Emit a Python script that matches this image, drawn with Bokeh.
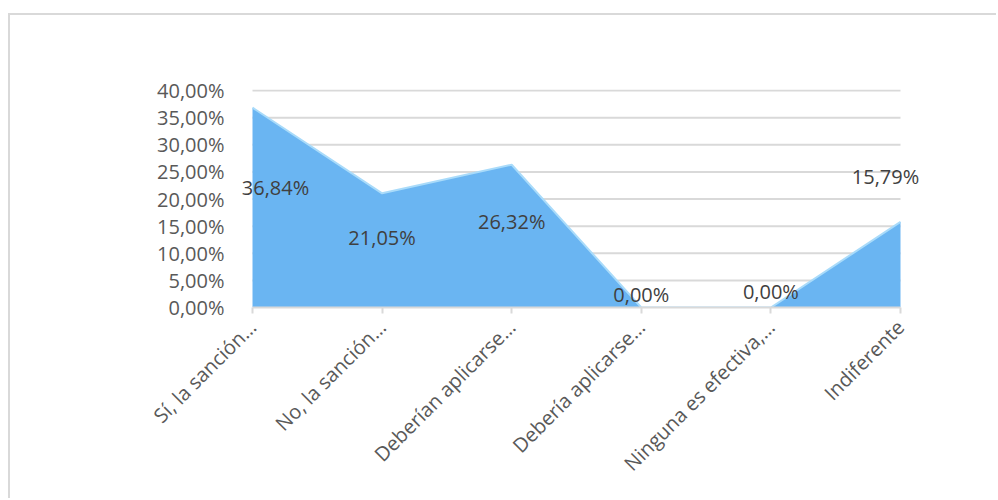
import math
from bokeh.plotting import figure
from bokeh.models import Range1d, FixedTicker, ColumnDataSource, Label
from bokeh.embed import file_html
from bokeh.resources import INLINE

categories = ["Sí, la sanción…", "No, la sanción…", "Deberían aplicarse…",
              "Debería aplicarse…", "Ninguna es efectiva,…", "Indiferente"]
values = [36.84, 21.05, 26.32, 0.00, 0.00, 15.79]
label_texts = ["36,84%", "21,05%", "26,32%", "0,00%", "0,00%", "15,79%"]
y_ticks = [0, 5, 10, 15, 20, 25, 30, 35, 40]
y_tick_labels = ["0,00%", "5,00%", "10,00%", "15,00%", "20,00%", "25,00%", "30,00%", "35,00%", "40,00%"]

# label pixel offsets (style only; positive dy = upward)
lbl_dx = [23, 0, 0, 0, 0, -15]
lbl_dy = [-80, -44, -57, 13, 16, 45]

FONT = "Open Sans"
TXT = "#595959"
GRID = "#d9d9d9"

idx = list(range(len(categories)))
n = len(categories) - 1

# layout (pixels)
W, H = 988, 485
ox, oy = 10, 15            # canvas origin on page
data_left, data_right = 252, 900
frame_left, frame_right = 235, 940
frame_top, frame_bottom = 89, 307
upp = n / (data_right - data_left)   # data units per pixel
x0 = -(data_left - frame_left) * upp
x1 = n + (frame_right - data_right) * upp
ypp = 40 / (frame_bottom - 90)

p = figure(width=W, height=H, output_backend="svg", toolbar_location=None,
           x_range=Range1d(x0, x1), y_range=Range1d(0, 40 + (90 - frame_top) * ypp),
           min_border_left=frame_left - ox, min_border_right=W - (frame_right - ox),
           min_border_top=frame_top - oy, min_border_bottom=H - (frame_bottom - oy))
p.styles = {"margin-left": "8px", "margin-top": "13px",
            "border-left": "2px solid #d9d9d9", "border-top": "2px solid #d9d9d9"}
p.outline_line_color = None
p.background_fill_color = "white"
p.border_fill_color = "white"

# gridlines limited to the category span
gl = y_ticks[1:]
p.segment(x0=[0] * len(gl), x1=[n] * len(gl), y0=gl, y1=gl,
          line_color=GRID, line_width=2)

src = ColumnDataSource(dict(x=idx, y=values))
p.varea(x="x", y1=0, y2="y", source=src, fill_color="#6ab5f2")
p.line(x="x", y="y", source=src, line_color="#a9dbfa", line_width=2)

for xi, yi, t, dx, dy in zip(idx, values, label_texts, lbl_dx, lbl_dy):
    p.add_layout(Label(x=xi, y=yi, text=t, x_offset=dx, y_offset=dy,
                       text_font=FONT, text_font_size="20px", text_color="#404040",
                       text_align="center", text_baseline="middle"))

# axes
p.xaxis.ticker = FixedTicker(ticks=idx)
p.xaxis.bounds = (0, n)
p.xaxis.major_label_overrides = {i: c for i, c in zip(idx, categories)}
p.xaxis.major_label_orientation = math.pi / 4
p.xaxis.axis_line_color = GRID
p.xaxis.axis_line_width = 2
p.xaxis.major_tick_line_color = GRID
p.xaxis.major_tick_line_width = 2
p.xaxis.major_tick_out = 6
p.xaxis.major_tick_in = 0
p.xaxis.minor_tick_line_color = None
p.xaxis.major_label_text_font = FONT
p.xaxis.major_label_text_font_size = "20px"
p.xaxis.major_label_text_color = TXT
p.xaxis.major_label_standoff = 10

p.yaxis.ticker = FixedTicker(ticks=y_ticks)
p.yaxis.major_label_overrides = {t: l for t, l in zip(y_ticks, y_tick_labels)}
p.yaxis.axis_line_color = None
p.yaxis.major_tick_line_color = None
p.yaxis.minor_tick_line_color = None
p.yaxis.major_label_text_font = FONT
p.yaxis.major_label_text_font_size = "20px"
p.yaxis.major_label_text_color = TXT
p.yaxis.major_label_standoff = 5

p.xgrid.grid_line_color = None
p.ygrid.grid_line_color = None

open("out.html", "w").write(file_html(p, INLINE))
